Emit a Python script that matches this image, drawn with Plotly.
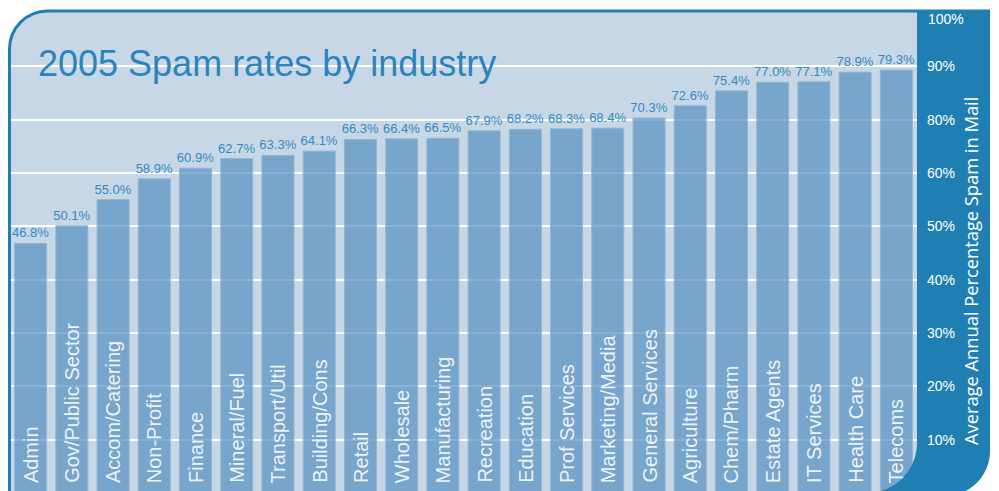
import plotly.graph_objects as go

# Industry categories and their 2005 average annual spam rate (%)
categories = [
    "Admin", "Gov/Public Sector", "Accom/Catering", "Non-Profit", "Finance",
    "Mineral/Fuel", "Transport/Util", "Building/Cons", "Retail", "Wholesale",
    "Manufacturing", "Recreation", "Education", "Prof Services",
    "Marketing/Media", "General Services", "Agriculture", "Chem/Pharm",
    "Estate Agents", "IT Services", "Health Care", "Telecoms",
]
spam_rates = [
    46.8, 50.1, 55.0, 58.9, 60.9, 62.7, 63.3, 64.1, 66.3, 66.4, 66.5,
    67.9, 68.2, 68.3, 68.4, 70.3, 72.6, 75.4, 77.0, 77.1, 78.9, 79.3,
]
tick_values = [10, 20, 30, 40, 50, 60, 70, 80]
tick_labels = ["10%", "20%", "30%", "40%", "50%", "60%", "80%", "90%"]
top_tick_label = "100%"

title_text = "2005 Spam rates by industry"
axis_title = "Average Annual Percentage Spam in Mail"

# Canvas and plot-area geometry (pixels)
W, H = 999, 491
ML, MR, MT, MB = 10, 82, 13, 0
PW = W - ML - MR
PH = H - MT - MB

FRAME_BLUE = "#1f7fb2"
PANEL_LIGHT = "#c8d7e5"
BAR_FILL = "rgba(89,146,193,0.72)"
BAR_EDGE = "#8fb6d6"
TITLE_BLUE = "#2a84bd"
VALUE_BLUE = "#2e8bc3"
SANS = "Liberation Sans, Arial, sans-serif"


def px(x):
    return (x - ML) / PW


def py(y):
    return (H - MB - y) / PH


def pt(x, y):
    return f"{px(x):.5f},{py(y):.5f}"


K = 0.5523  # cubic Bezier constant for quarter circles

# Light chart panel with rounded top-left corner
R1 = 38
light_path = (
    f"M {pt(10, 497)} L {pt(10, 11 + R1)} "
    f"C {pt(10, 11 + R1 - K * R1)} {pt(10 + R1 - K * R1, 11)} {pt(10 + R1, 11)} "
    f"L {pt(917, 11)} L {pt(917, 497)} Z"
)

# Dark axis panel on the right with rounded bottom-right corner
R2 = 45
cy2 = 496 - R2
panel_path = (
    f"M {pt(917, 11)} L {pt(990, 11)} L {pt(990, cy2)} "
    f"C {pt(990, cy2 + K * R2)} {pt(990 - R2 + K * R2, 496)} {pt(990 - R2, 496)} "
    f"L {pt(917, 496)} Z"
)

# Rounded bottom-right corner of the chart panel (covers the bar corner)
R3 = 50
cy3 = 493 - R3
corner_path = (
    f"M {pt(917, cy3)} "
    f"C {pt(917, cy3 + K * R3)} {pt(917 - R3 + K * R3, 493)} {pt(917 - R3, 493)} "
    f"L {pt(917, 497)} Z"
)

# Outer frame outline
frame_path = (
    f"M {pt(9.5, 497)} L {pt(9.5, 11 + R1)} "
    f"C {pt(9.5, 11 + R1 - K * R1)} {pt(9.5 + R1 - K * R1, 11)} {pt(9.5 + R1, 11)} "
    f"L {pt(990, 11)}"
)

fig = go.Figure()
fig.add_trace(
    go.Bar(
        x=categories,
        y=spam_rates,
        marker=dict(color=BAR_FILL, line=dict(color=BAR_EDGE, width=1)),
        texttemplate="%{y:.1f}%",
        textposition="outside",
        constraintext="none",
        outsidetextfont=dict(family=SANS, size=13, color=VALUE_BLUE),
        cliponaxis=False,
        hoverinfo="x+y",
    )
)

shapes = [
    dict(type="path", path=light_path, xref="paper", yref="paper",
         fillcolor=PANEL_LIGHT, line=dict(width=0), layer="below"),
    dict(type="path", path=panel_path, xref="paper", yref="paper",
         fillcolor=FRAME_BLUE, line=dict(width=0), layer="below"),
    dict(type="path", path=corner_path, xref="paper", yref="paper",
         fillcolor=FRAME_BLUE, line=dict(width=0), layer="above"),
    dict(type="path", path=frame_path, xref="paper", yref="paper",
         fillcolor="rgba(0,0,0,0)", line=dict(color=FRAME_BLUE, width=3), layer="above"),
]

annotations = [
    dict(text=title_text, xref="paper", yref="paper", x=px(36), y=py(64),
         xanchor="left", yanchor="middle", showarrow=False,
         font=dict(family=SANS, size=36, color=TITLE_BLUE)),
    dict(text=axis_title, xref="paper", yref="paper", x=px(970), y=py(271),
         xanchor="center", yanchor="middle", textangle=-90, showarrow=False,
         font=dict(family="Open Sans, sans-serif", size=18.3, color="white")),
    # topmost axis label, sitting just inside the panel's top edge
    dict(text=top_tick_label, xref="paper", yref="paper", x=px(926), y=py(19),
         xanchor="left", yanchor="middle", showarrow=False,
         font=dict(family=SANS, size=14, color="white")),
]
for cat in categories:
    annotations.append(
        dict(text=cat, xref="x", yref="paper", x=cat, y=py(485),
             xanchor="center", yanchor="bottom", textangle=-90, showarrow=False,
             font=dict(family=SANS, size=20, color="rgba(255,255,255,0.88)"))
    )

fig.update_layout(
    width=W,
    height=H,
    margin=dict(l=ML, r=MR, t=MT, b=MB, pad=0),
    paper_bgcolor="white",
    plot_bgcolor="rgba(0,0,0,0)",
    showlegend=False,
    bargap=0.224,
    shapes=shapes,
    annotations=annotations,
    xaxis=dict(
        showticklabels=False, showgrid=False, zeroline=False, showline=False,
        ticks="", range=[-0.5, len(categories) - 0.5],
    ),
    yaxis=dict(
        side="right",
        range=[(493 - 491) / (480 / 90), 90],
        tickvals=tick_values,
        ticktext=tick_labels,
        showgrid=True, gridcolor="white", gridwidth=2,
        zeroline=False, showline=False, ticks="",
        ticklabelstandoff=9,
        tickfont=dict(family=SANS, size=14, color="white"),
    ),
)

fig.write_html("out.html")
